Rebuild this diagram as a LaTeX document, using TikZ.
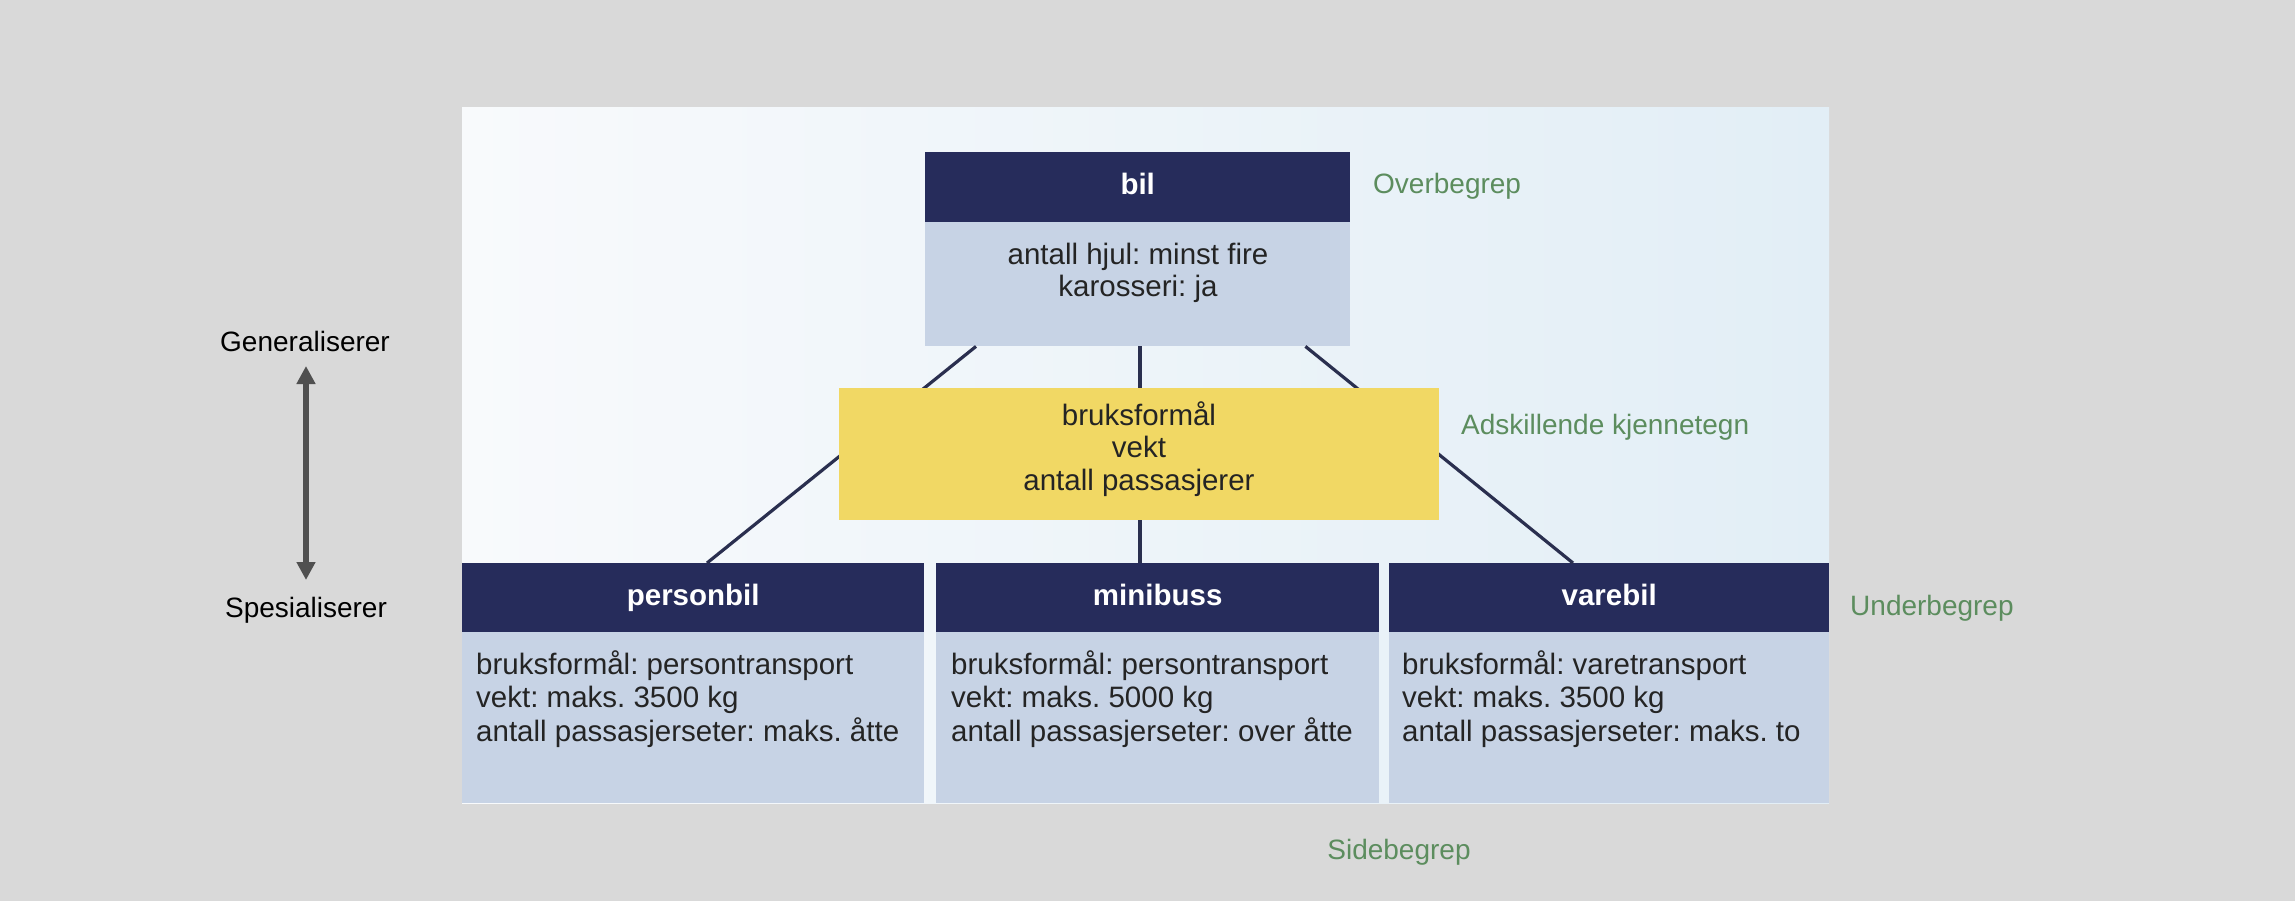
\documentclass[tikz,border=0pt]{standalone}
\usepackage{fontspec}
\setmainfont{Liberation Sans}
\usetikzlibrary{arrows.meta,calc}
\definecolor{bg}{HTML}{D9D9D9}
\definecolor{navy}{HTML}{262C5B}
\definecolor{bodyblue}{HTML}{C7D3E5}
\definecolor{ylw}{HTML}{F1D864}
\definecolor{grn}{HTML}{5C8D5E}
\definecolor{txt}{HTML}{242424}
\definecolor{arrowgray}{HTML}{505050}
\definecolor{linecol}{HTML}{2A2F4F}
\definecolor{panelL}{HTML}{F8FAFC}
\definecolor{panelR}{HTML}{E2EEF6}
\frenchspacing
\begin{document}
\begin{tikzpicture}[x=1pt,y=-1pt,
  headbox/.style={fill=navy, text=white, font=\fontsize{29.5}{34}\selectfont\bfseries,
    inner sep=0pt, minimum height=70pt, anchor=north west, text height=21pt, text depth=6pt},
  bodybox/.style={fill=bodyblue, inner sep=0pt, anchor=north west},
  bodytxt/.style={text=txt, font=\fontsize{29.5}{33.5}\selectfont, inner sep=0pt},
  ctrtxt/.style={text=txt, font=\fontsize{29.5}{32.5}\selectfont, inner sep=0pt, align=center},
  greenlbl/.style={text=grn, font=\fontsize{28}{32}\selectfont, inner sep=0pt},
  sidelbl/.style={text=black, font=\fontsize{28}{32}\selectfont, inner sep=0pt, anchor=base},
  conn/.style={draw=linecol, line width=3.2pt},
  bigarrow/.style={draw=arrowgray, line width=5.5pt,
    {Triangle[width=18pt,length=18pt]}-{Triangle[width=18pt,length=18pt]}}
]
\useasboundingbox (0,0) rectangle (2295,901);
\fill[bg] (0,0) rectangle (2295,901);
\shade[left color=panelL, right color=panelR] (462,108) rectangle (1829,803);

% top concept
\node[headbox, minimum width=425pt] (bilhead) at (925,152) {bil};
\node[bodybox, minimum width=425pt, minimum height=124pt] (bilbody) at (925,222) {};
\node[ctrtxt] (biltxt) at (1138,273) {antall hjul: minst fire\\karosseri: ja};

% bottom concepts
\node[headbox, minimum width=462pt, minimum height=69pt] (phead) at (462,563) {personbil};
\node[bodybox, minimum width=462pt, minimum height=171pt] (pbody) at (462,632) {};
\node[headbox, minimum width=443pt, minimum height=69pt] (mhead) at (936,563) {minibuss};
\node[bodybox, minimum width=443pt, minimum height=171pt] (mbody) at (936,632) {};
\node[headbox, minimum width=440pt, minimum height=69pt] (vhead) at (1389,563) {varebil};
\node[bodybox, minimum width=440pt, minimum height=171pt] (vbody) at (1389,632) {};

\node[bodytxt, anchor=west, align=left] (ptxt) at (476,699)
  {bruksformål: persontransport\\vekt: maks. 3500 kg\\antall passasjerseter: maks. åtte};
\node[bodytxt, anchor=west, align=left] (mtxt) at (951,699)
  {bruksformål: persontransport\\vekt: maks. 5000 kg\\antall passasjerseter: over åtte};
\node[bodytxt, anchor=west, align=left] (vtxt) at (1402,699)
  {bruksformål: varetransport\\vekt: maks. 3500 kg\\antall passasjerseter: maks. to};

% connectors (behind the yellow box)
\draw[conn] ($(bilbody.south west)+(51,0)$) -- ($(phead.north west)+(245,0)$);
\draw[conn] ($(bilbody.south west)+(215,0)$) -- ($(mhead.north west)+(204,0)$);
\draw[conn] ($(bilbody.south east)+(-45,0)$) -- ($(vhead.north west)+(184,0)$);

% distinguishing features
\node[fill=ylw, inner sep=0pt, minimum width=600pt, minimum height=132pt, anchor=north west] (feat) at (839,388) {};
\node[ctrtxt] (feattxt) at (1139,449) {bruksformål\\vekt\\antall passasjerer};

% green labels
\node[greenlbl, anchor=base west] (over) at (1373,194) {Overbegrep};
\node[greenlbl, anchor=base west] (adsk) at (1461,434) {Adskillende kjennetegn};
\node[greenlbl, anchor=base west] (under) at (1850,615) {Underbegrep};
\node[greenlbl, anchor=base] (side) at (1399,859) {Sidebegrep};

% left arrow
\node[sidelbl] (gen) at (305,352) {Generaliserer};
\node[sidelbl] (spes) at (306,617) {Spesialiserer};
\coordinate (arrtop) at (306,366);
\coordinate (arrbot) at (306,580);
\draw[bigarrow] (arrbot) -- (arrtop);
\end{tikzpicture}
\end{document}
